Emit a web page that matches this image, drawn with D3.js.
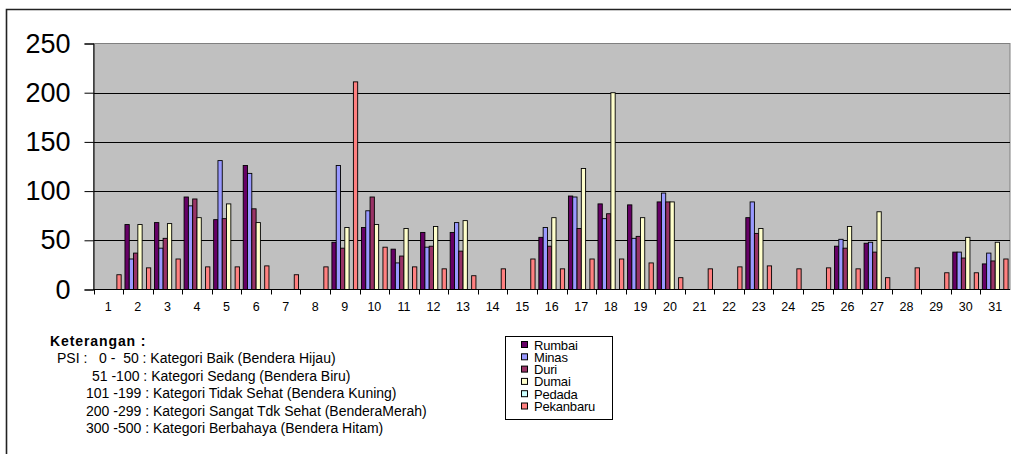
<!DOCTYPE html>
<html>
<head>
<meta charset="utf-8">
<script src="https://cdn.jsdelivr.net/npm/d3@7"></script>
<style>
  html, body { margin: 0; padding: 0; background: #fff; }
  svg { display: block; font-family: "Liberation Sans", Arial, sans-serif; }
  .note { white-space: pre; }
</style>
</head>
<body>
<svg id="chart" width="1011" height="454"></svg>
<script>
// Daily PSI readings per monitoring station (null = no reading that day)
const days = d3.range(1, 32).map(String);
const stations = ["Rumbai", "Minas", "Duri", "Dumai", "Pedada", "Pekanbaru"];
const rumbai    = [null,66,68,94,71,126,null,null,48,63,41,58,58,null,null,53,95,87,86,89,null,null,73,null,null,44,47,null,null,38,26];
const minas     = [null,31,42,85,131,118,null,null,126,80,27,43,68,null,null,63,94,72,52,98,null,null,89,null,null,51,48,null,null,38,37];
const duri      = [null,37,52,92,72,82,null,null,42,94,34,44,39,null,null,44,62,77,54,89,null,null,57,null,null,42,38,null,null,32,29];
const dumai     = [null,66,67,73,87,68,null,null,63,66,62,64,70,null,null,73,123,200,73,89,null,null,62,null,null,64,79,null,null,53,48];
const pedada    = days.map(() => null);
const pekanbaru = [15,22,31,23,23,24,15,23,211,43,23,21,14,21,31,21,31,31,27,12,21,23,24,21,22,21,12,22,17,17,31];
const yTicks = [0, 50, 100, 150, 200, 250];
const colors = ["#660066", "#9999FF", "#993366", "#FFFFCC", "#CCFFFF", "#FF8080"];

// PSI category notes: [left indent, text]
const notes = [
  [57, "PSI :   0 -  50 : Kategori Baik (Bendera Hijau)"],
  [92, "51 -100 : Kategori Sedang (Bendera Biru)"],
  [86, "101 -199 : Kategori Tidak Sehat (Bendera Kuning)"],
  [86, "200 -299 : Kategori Sangat Tdk Sehat (BenderaMerah)"],
  [86, "300 -500 : Kategori Berbahaya (Bendera Hitam)"]
];

const seriesValues = [rumbai, minas, duri, dumai, pedada, pekanbaru];

const svg = d3.select("#chart");

// outer frame (continues past the right and bottom edges)
svg.append("path")
  .attr("d", "M6.5,460 V9.5 H1020")
  .attr("fill", "none").attr("stroke", "#222").attr("stroke-width", 1.6);

const plot = { left: 93.5, right: 1010, top: 43.5, bottom: 289.5 };

const x = d3.scaleBand().domain(days).range([plot.left, plot.right]).padding(0);
const xs = d3.scaleBand().domain(stations)
  .range([1.9, x.bandwidth() - 1.9]).padding(0);
const y = d3.scaleLinear().domain([0, 250]).range([plot.bottom, plot.top]);

// plot background
svg.append("rect")
  .attr("x", plot.left).attr("y", plot.top)
  .attr("width", plot.right - plot.left).attr("height", plot.bottom - plot.top)
  .attr("fill", "#C0C0C0").attr("stroke", "#808080").attr("stroke-width", 1);

// horizontal gridlines
svg.append("g").selectAll("line")
  .data(yTicks.filter(t => t > 0 && t < 250))
  .join("line")
  .attr("x1", plot.left).attr("x2", plot.right)
  .attr("y1", d => Math.round(y(d)) + 0.5).attr("y2", d => Math.round(y(d)) + 0.5)
  .attr("stroke", "#000").attr("stroke-width", 1);

// bars
const dayGroups = svg.append("g").selectAll("g")
  .data(days)
  .join("g")
  .attr("transform", d => `translate(${x(d)},0)`);

dayGroups.selectAll("rect")
  .data((d, i) => stations.map((s, k) => ({ s, k, v: seriesValues[k][i] })).filter(e => e.v != null))
  .join("rect")
  .attr("x", e => xs(e.s))
  .attr("width", xs.bandwidth())
  .attr("y", e => y(e.v))
  .attr("height", e => y(0) - y(e.v))
  .attr("fill", e => colors[e.k])
  .attr("stroke", "#000").attr("stroke-width", 0.9);

// y axis
const yAxis = svg.append("g")
  .attr("transform", `translate(${plot.left},0)`)
  .call(d3.axisLeft(y).tickValues(yTicks).tickSize(9).tickPadding(14));
yAxis.select(".domain").attr("stroke", "#000");
yAxis.selectAll(".tick line").attr("stroke", "#000");
yAxis.selectAll("text")
  .attr("font-family", "Liberation Sans, Arial, sans-serif")
  .attr("font-size", 27).attr("fill", "#000");

// x axis: ticks at band boundaries, labels centred in each band
const xAxis = svg.append("g")
  .attr("transform", `translate(0,${plot.bottom})`);
xAxis.append("line")
  .attr("x1", plot.left).attr("x2", plot.right)
  .attr("stroke", "#000");
xAxis.selectAll("line.tk")
  .data(days)
  .join("line").attr("class", "tk")
  .attr("x1", d => Math.round(x(d)) + 0.5).attr("x2", d => Math.round(x(d)) + 0.5)
  .attr("y1", 0).attr("y2", 5)
  .attr("stroke", "#000");
xAxis.selectAll("text")
  .data(days)
  .join("text")
  .attr("x", d => x(d) + x.bandwidth() / 2)
  .attr("y", 21)
  .attr("text-anchor", "middle")
  .attr("font-size", 12.5)
  .text(d => d);

// notes block
const notesG = svg.append("g").attr("font-size", 14);
notesG.append("text")
  .attr("x", 50).attr("y", 346)
  .attr("font-weight", "bold")
  .attr("letter-spacing", 0.9)
  .text("Keterangan :");
notesG.selectAll("text.note")
  .data(notes)
  .join("text").attr("class", "note")
  .attr("x", d => d[0])
  .attr("y", (d, i) => 363 + i * 17.5)
  .text(d => d[1]);

// legend
const legend = svg.append("g");
legend.append("rect")
  .attr("x", 505.5).attr("y", 336.5).attr("width", 107).attr("height", 83)
  .attr("fill", "#fff").attr("stroke", "#000").attr("stroke-width", 1);
const items = legend.selectAll("g.item")
  .data(stations)
  .join("g").attr("class", "item")
  .attr("transform", (d, i) => `translate(0,${345 + i * 12.3})`);
items.append("rect")
  .attr("x", 521.5).attr("y", -3.5).attr("width", 6).attr("height", 6)
  .attr("fill", (d, i) => colors[i]).attr("stroke", "#000").attr("stroke-width", 1);
items.append("text")
  .attr("x", 534).attr("y", 4.5)
  .attr("font-size", 13)
  .attr("letter-spacing", -0.2)
  .text(d => d);
</script>
</body>
</html>
